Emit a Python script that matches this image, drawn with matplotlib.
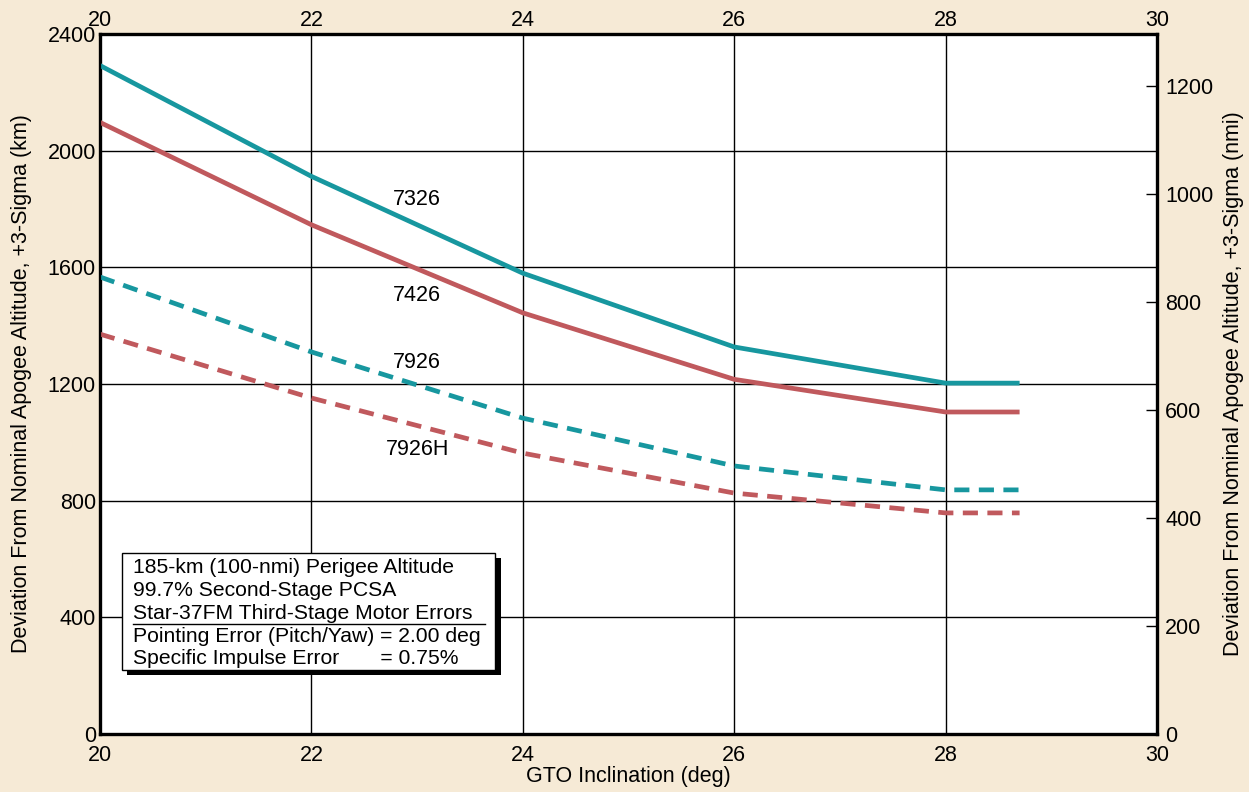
import matplotlib
matplotlib.use("Agg")
import matplotlib.pyplot as plt
from matplotlib.patches import Rectangle

plt.rcParams['font.family'] = ['Liberation Sans', 'DejaVu Sans']

# GTO inclination (deg)
incl = [20, 22, 24, 26, 28, 28.7]
# apogee altitude deviation, +3-sigma (km)
v7326 = [2292, 1912, 1580, 1327, 1203, 1203]
v7426 = [2097, 1746, 1444, 1216, 1104, 1104]
v7926 = [1567, 1310, 1083, 919, 837, 837]
v7926h = [1371, 1152, 963, 826, 758, 758]

labels = ["7326", "7426", "7926", "7926H"]
label_pos = [(23.0, 1831), (23.0, 1505), (23.0, 1272), (23.0, 974)]

note_lines = ["185-km (100-nmi) Perigee Altitude",
              "99.7% Second-Stage PCSA",
              "Star-37FM Third-Stage Motor Errors",
              "Pointing Error (Pitch/Yaw) = 2.00 deg",
              "Specific Impulse Error       = 0.75%"]

TEAL = "#17979f"
RED = "#c0595d"
BG = "#f6ead6"
FS = 15.5

fig = plt.figure(figsize=(12.49, 7.92), dpi=100, facecolor=BG)
ax = fig.add_axes([100/1249, 58/792, 1057/1249, 700/792])

ax.plot(incl, v7326, color=TEAL, lw=3.4, solid_capstyle='butt', zorder=3)
ax.plot(incl, v7426, color=RED, lw=3.4, solid_capstyle='butt', zorder=3)
ax.plot(incl, v7926, color=TEAL, lw=3.4, dashes=(3.2, 2.0), zorder=3)
ax.plot(incl, v7926h, color=RED, lw=3.4, dashes=(3.2, 2.0), zorder=3)

for lab, (x, y) in zip(labels, label_pos):
    ax.text(x, y, lab, fontsize=FS, ha='center', va='center', zorder=4)

ax.set_xlim(20, 30)
ax.set_ylim(0, 2400)
ax.set_xticks(range(20, 31, 2))
ax.set_yticks(range(0, 2401, 400))
ax.grid(True, color='black', lw=1.0)
ax.tick_params(axis='y', length=0, labelsize=FS, pad=3)
ax.tick_params(axis='x', length=0, labelsize=FS, pad=8)
for s in ax.spines.values():
    s.set_linewidth(2.4)
ax.set_xlabel("GTO Inclination (deg)", fontsize=FS, labelpad=0)
ax.set_ylabel("Deviation From Nominal Apogee Altitude, +3-Sigma (km)", fontsize=FS, labelpad=11)

# top axis labels
ax3 = ax.twiny()
ax3.set_xlim(20, 30)
ax3.set_xticks(range(20, 31, 2))
ax3.tick_params(axis='x', length=0, labelsize=FS, pad=2)

ax2 = ax.twinx()
ax2.set_ylim(0, 2400 / 1.852)
ax2.set_yticks(range(0, 1201, 200))
ax2.tick_params(axis='y', direction='in', length=8, width=1, labelsize=FS, pad=6)
ax2.set_ylabel("Deviation From Nominal Apogee Altitude, +3-Sigma (nmi)", fontsize=FS, labelpad=7)

# note box with drop shadow
bx0, bx1, by0, by1 = 20.21, 23.74, 219, 620
ax.add_patch(Rectangle((bx0 + 0.05, by0 - 17), bx1 - bx0, by1 - by0,
                       facecolor='black', edgecolor='none', zorder=5))
ax.add_patch(Rectangle((bx0, by0), bx1 - bx0, by1 - by0,
                       facecolor='white', edgecolor='black', lw=1.0, zorder=6))
ys = [572, 493, 414, 335, 259]
for t, y in zip(note_lines, ys):
    ax.text(20.31, y, t, fontsize=FS - 0.3, ha='left', va='center', zorder=7)
ax.plot([20.31, 23.64], [377, 377], color='black', lw=1.0, zorder=7)

fig.savefig("out.png", dpi=100, facecolor=BG)
